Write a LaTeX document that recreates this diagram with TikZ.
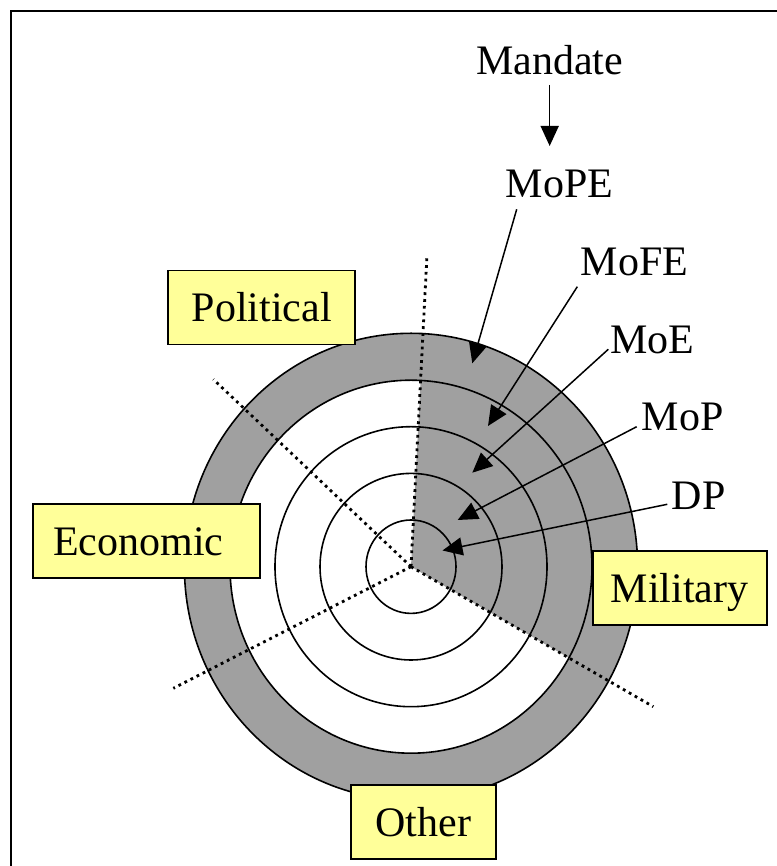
\documentclass[tikz,border=0pt]{standalone}
\usepackage{fontspec}
\setmainfont{Liberation Serif}
\usetikzlibrary{arrows.meta}
\definecolor{ringgray}{RGB}{160,160,160}
\definecolor{boxyellow}{RGB}{255,255,153}
\tikzset{
  lbl/.style={inner sep=0pt, anchor=base west},
  areabox/.style={draw, fill=boxyellow, line width=1.8pt, inner sep=0pt,
    minimum height=74pt, text height=29pt, text depth=0pt},
  pointer/.style={line width=1.5pt, -{Triangle[length=20pt,width=18pt]}},
  ring/.style={line width=1.6pt},
  divider/.style={line width=2.8pt, dash pattern=on 2.8pt off 4pt},
}
\begin{document}
\begin{tikzpicture}[x=1pt, y=1pt, font=\fontsize{42}{48}\selectfont]
    \useasboundingbox (0,0) rectangle (776,866);
    \draw[line width=2pt] (11,-10) -- (11,855) -- (800,855);
    \coordinate (ctr) at (411,299.3);
    %
    \fill[ringgray] (ctr) ellipse[x radius=226.6, y radius=233.4];
    \fill[white]    (ctr) ellipse[x radius=181,   y radius=186.5];
    \begin{scope}
        \clip (ctr) ellipse[x radius=181, y radius=186.5];
        \fill[ringgray] (ctr) -- ++(87.06:250) arc[start angle=87.06, end angle=-30, radius=250] -- cycle;
    \end{scope}
    %
    \draw[ring] (ctr) ellipse[x radius=226.6, y radius=233.4];
    \draw[ring] (ctr) ellipse[x radius=181,   y radius=186.5];
    \draw[ring] (ctr) ellipse[x radius=136,   y radius=140];
    \draw[ring] (ctr) ellipse[x radius=91,    y radius=93.3];
    \draw[ring] (ctr) ellipse[x radius=45,    y radius=46.7];
    %
    \coordinate (upEnd)    at (427,611);
    \coordinate (lrEnd)    at (653.3,159.3);
    \coordinate (ulEnd)    at (213.3,486.7);
    \coordinate (llEnd)    at (173.3,177.7);
    \draw[divider] (ctr) -- (upEnd);
    \draw[divider] (ctr) -- (lrEnd);
    \draw[divider] (ctr) -- (ulEnd);
    \draw[divider] (ctr) -- (llEnd);
    %
    \node[areabox, minimum width=186.7pt] (political) at (261.7,558.5) {Political};
    \node[areabox, minimum width=227.3pt] (economic)  at (146.3,324.7) {\hspace*{-16pt}Economic};
    \node[areabox, minimum width=174pt]   (military)  at (679.7,278)   {Military};
    \node[areabox, minimum width=145.3pt] (other)     at (423.3,44)    {Other};
    %
    \node[lbl] (mandate) at (476,791.7)   {Mandate};
    \node[lbl] (mope)    at (505.7,668.3) {MoPE};
    \node[lbl] (mofe)    at (580.7,590)   {MoFE};
    \node[lbl] (moe)     at (610,512.7)   {MoE};
    \node[lbl] (mop)     at (641.7,435)   {MoP};
    \node[lbl] (dp)      at (671.7,356)   {DP};
    %
    \coordinate (tipPE) at (472.3,502.7);
    \coordinate (tipFE) at (488,440);
    \coordinate (tipE)  at (472.3,393.3);
    \coordinate (tipP)  at (457.7,346);
    \coordinate (tipDP) at (442.5,315.5);
    %
    \draw[pointer] ([yshift=-10pt]mandate.south) -- ([yshift=24pt]mandate.south |- mope.north);
    \draw[pointer] ([shift={(11,-11.6)}]mope.base west)  -- (tipPE);
    \draw[pointer] ([shift={(-3.4,-10.7)}]mofe.base west) -- (tipFE);
    \draw[pointer] ([shift={(-1.7,4)}]moe.base west)     -- (tipE);
    \draw[pointer] ([shift={(-5,4.3)}]mop.base west)     -- (tipP);
    \draw[pointer] ([shift={(-4.4,5.7)}]dp.base west)    -- (tipDP);
\end{tikzpicture}
\end{document}
